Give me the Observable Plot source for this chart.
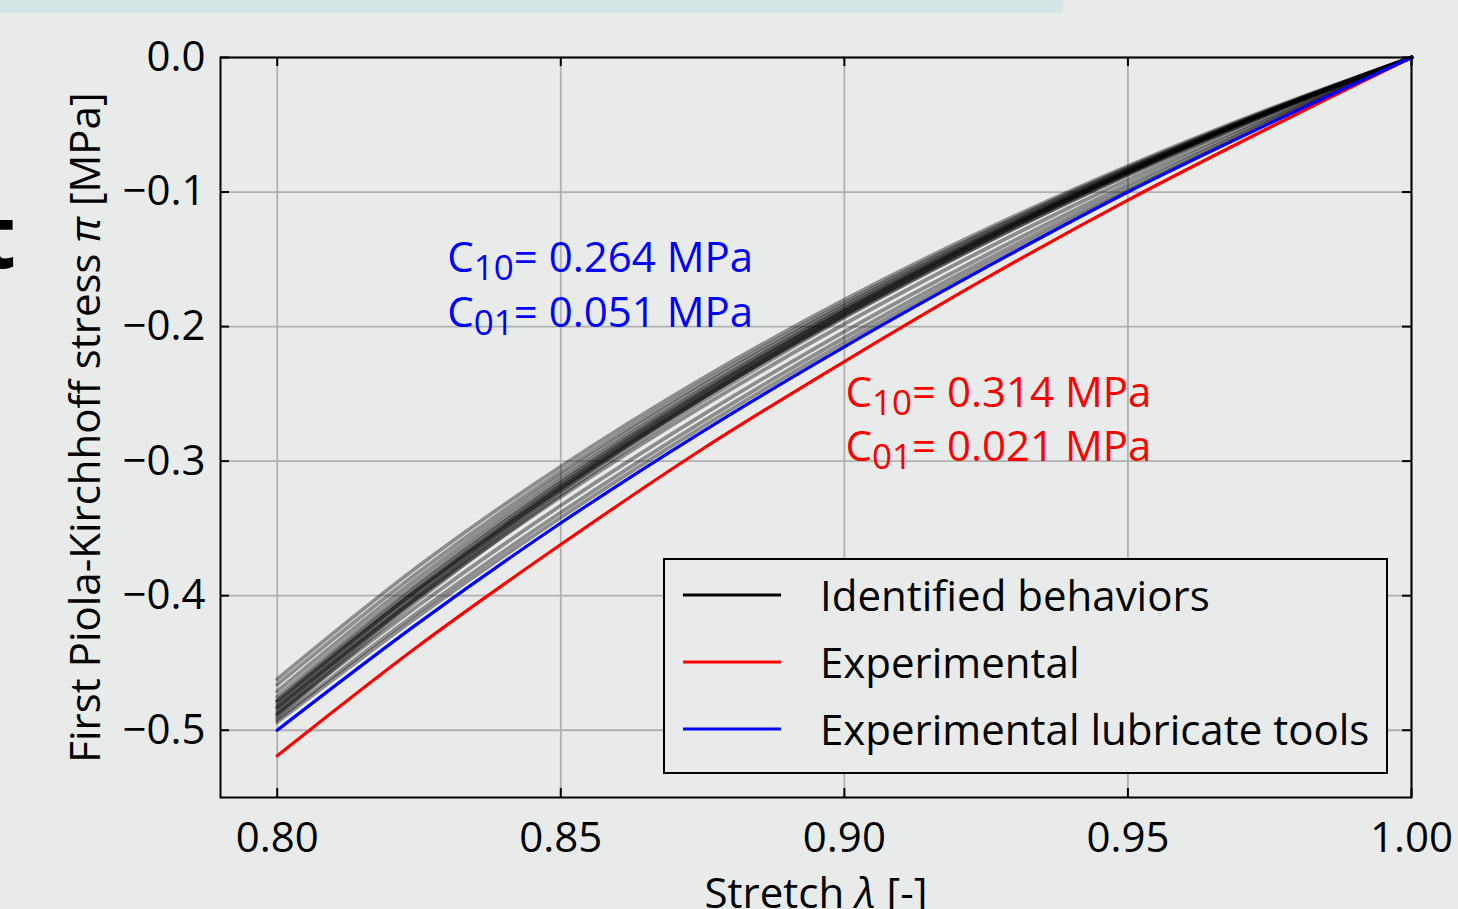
<!DOCTYPE html>
<html>
<head>
<meta charset="utf-8">
<script src="https://cdn.jsdelivr.net/npm/d3@7"></script>
<script src="https://cdn.jsdelivr.net/npm/@observablehq/plot@0.6"></script>
<style>
  html, body { margin: 0; padding: 0; background: #e9ebea; }
  #wrap { position: relative; width: 1458px; height: 909px; overflow: hidden; background: #e9ebea; }
  #strip { position: absolute; left: 0; top: 0; width: 1063px; height: 13px; background: #d4e5e5; }
  #chart { position: absolute; left: 0; top: 0; }
</style>
</head>
<body>
<div id="wrap"><div id="strip"></div><div id="chart"></div></div>
<script>
// ---- data ----
const lambda = [0.80, 0.825, 0.85, 0.875, 0.90, 0.925, 0.95, 0.975, 1.00];
const experimental = [-0.519, -0.437, -0.362, -0.291, -0.226, -0.164, -0.106, -0.052, 0];
const lubricated   = [-0.500, -0.420, -0.346, -0.278, -0.215, -0.156, -0.100, -0.049, 0];
const identified = [
  [-0.4621, -0.3778, -0.3041, -0.2385, -0.1800, -0.1276, -0.0806, -0.0382, 0],
  [-0.4661, -0.3822, -0.3078, -0.2415, -0.1824, -0.1294, -0.0818, -0.0388, 0],
  [-0.4710, -0.3861, -0.3108, -0.2439, -0.1841, -0.1306, -0.0825, -0.0391, 0],
  [-0.4750, -0.3896, -0.3138, -0.2463, -0.1860, -0.1320, -0.0834, -0.0396, 0],
  [-0.4781, -0.3919, -0.3156, -0.2476, -0.1869, -0.1326, -0.0837, -0.0398, 0],
  [-0.4800, -0.3939, -0.3174, -0.2492, -0.1883, -0.1337, -0.0845, -0.0402, 0],
  [-0.4821, -0.3953, -0.3183, -0.2498, -0.1886, -0.1338, -0.0845, -0.0401, 0],
  [-0.4840, -0.3970, -0.3198, -0.2511, -0.1897, -0.1346, -0.0851, -0.0404, 0],
  [-0.4861, -0.3990, -0.3217, -0.2528, -0.1911, -0.1357, -0.0858, -0.0408, 0],
  [-0.4880, -0.4002, -0.3223, -0.2530, -0.1911, -0.1356, -0.0857, -0.0407, 0],
  [-0.4901, -0.4027, -0.3250, -0.2556, -0.1934, -0.1375, -0.0870, -0.0414, 0],
  [-0.4781, -0.3948, -0.3202, -0.2531, -0.1924, -0.1374, -0.0874, -0.0418, 0],
  [-0.4830, -0.4008, -0.3266, -0.2593, -0.1981, -0.1421, -0.0908, -0.0436, 0],
  [-0.4880, -0.4069, -0.3330, -0.2656, -0.2037, -0.1468, -0.0942, -0.0454, 0],
  [-0.4920, -0.4117, -0.3382, -0.2706, -0.2083, -0.1505, -0.0969, -0.0468, 0],
  [-0.4939, -0.4148, -0.3419, -0.2745, -0.2120, -0.1537, -0.0992, -0.0481, 0]
];
const xTicks = [0.80, 0.85, 0.90, 0.95, 1.00];
const yTicks = [0, -0.1, -0.2, -0.3, -0.4, -0.5];
const xLabel = "Stretch λ [-]";
const yLabel = "First Piola-Kirchhoff stress π [MPa]";
const annotationLabels = ["C10= 0.264 MPa", "C01= 0.051 MPa", "C10= 0.314 MPa", "C01= 0.021 MPa"];
const annotationLambda = [0.830, 0.830, 0.9002, 0.9002];
const annotationStress = [-0.1375, -0.1784, -0.2378, -0.2780];
const annotationSeries = ["lubricated", "lubricated", "experimental", "experimental"];
const legendNames = ["Identified behaviors", "Experimental", "Experimental lubricate tools"];
const legendColors = ["black", "red", "blue"];

// ---- tables ----
const idTable = identified.flatMap((s, i) => s.map((v, j) => ({run: i, lambda: lambda[j], stress: v})));
const expTable = lambda.map((l, j) => ({lambda: l, stress: experimental[j]}));
const lubTable = lambda.map((l, j) => ({lambda: l, stress: lubricated[j]}));
const annTable = annotationLabels.map((t, i) => ({label: t, lambda: annotationLambda[i], stress: annotationStress[i], series: annotationSeries[i]}));

const FS = 42;
const gridStyle = {stroke: "#b0b0b0", strokeOpacity: 1, strokeWidth: 1.8};

const svg = Plot.plot({
  width: 1458,
  height: 909,
  marginLeft: 220,
  marginRight: 47,
  marginTop: 57,
  marginBottom: 112,
  x: {domain: [0.79, 1.0]},
  y: {domain: [-0.55, 0]},
  style: {background: "transparent", fontFamily: "'Open Sans', sans-serif", fontSize: FS + "px", color: "black"},
  marks: [
    Plot.gridX({ticks: xTicks, ...gridStyle}),
    Plot.gridY({ticks: yTicks, ...gridStyle}),
    Plot.line(idTable, {x: "lambda", y: "stress", z: "run", stroke: "black", strokeOpacity: 0.4, strokeWidth: 3.8, curve: "catmull-rom"}),
    Plot.line(expTable, {x: "lambda", y: "stress", stroke: "red", strokeWidth: 3.2, curve: "catmull-rom"}),
    Plot.line(lubTable, {x: "lambda", y: "stress", stroke: "blue", strokeWidth: 3.2, curve: "catmull-rom"}),
    // inward ticks on four sides
    Plot.ruleX(xTicks, {x: d => d, insetTop: 731, stroke: "black", strokeWidth: 2}),
    Plot.ruleX(xTicks, {x: d => d, insetBottom: 731, stroke: "black", strokeWidth: 2}),
    Plot.ruleY(yTicks, {y: d => d, insetRight: 1182, stroke: "black", strokeWidth: 2}),
    Plot.ruleY(yTicks, {y: d => d, insetLeft: 1182, stroke: "black", strokeWidth: 2}),
    Plot.frame({stroke: "black", strokeWidth: 2}),
    Plot.axisX({ticks: xTicks, tickSize: 0, tickPadding: 25, tickFormat: d3.format(".2f"), label: null, fontSize: FS}),
    Plot.axisY({ticks: yTicks, tickSize: 0, tickPadding: 15, tickFormat: d3.format(".1f"), label: null, fontSize: FS}),
    Plot.text([xLabel], {text: d => d, frameAnchor: "bottom", dy: 81, lineAnchor: "top", textAnchor: "middle", fontSize: FS, fill: "black"}),
    Plot.text([yLabel], {text: d => d, frameAnchor: "left", dx: -134, rotate: -90, lineAnchor: "middle", textAnchor: "middle", fontSize: FS, fill: "black"}),
    Plot.text(annTable.filter(d => d.series === "lubricated"), {x: "lambda", y: "stress", text: "label", textAnchor: "start", lineAnchor: "top", fill: "blue", fontSize: FS}),
    Plot.text(annTable.filter(d => d.series === "experimental"), {x: "lambda", y: "stress", text: "label", textAnchor: "start", lineAnchor: "top", fill: "red", fontSize: FS})
  ]
});
document.getElementById("chart").appendChild(svg);

// ---- rich text post-processing (italic symbols, subscripts) ----
const root = d3.select(svg);
function rebuild(el, parts) {
  const t = d3.select(el);
  t.text(null);
  parts.forEach(p => {
    const s = t.append("tspan").text(p.t);
    if (p.italic) s.attr("font-style", "italic");
    if (p.sub) s.attr("font-size", 35).attr("dy", 8);
    if (p.unsub) s.attr("dy", -8);
  });
}
root.selectAll("text").each(function() {
  const c = this.textContent;
  if (c === xLabel) rebuild(this, [{t: "Stretch "}, {t: "λ", italic: true}, {t: " [-]"}]);
  else if (c === yLabel) rebuild(this, [{t: "First Piola-Kirchhoff stress "}, {t: "π", italic: true}, {t: " [MPa]"}]);
  else if (/^C(10|01)=/.test(c)) rebuild(this, [{t: "C"}, {t: c.slice(1, 3), sub: true}, {t: c.slice(3), unsub: true}]);
});

// ---- legend ----
const lg = root.append("g").attr("font-family", "'Open Sans', sans-serif").attr("font-size", FS).attr("text-anchor", "start");
lg.append("rect").attr("x", 664).attr("y", 559).attr("width", 723).attr("height", 214)
  .attr("fill", "#e9ebea").attr("stroke", "black").attr("stroke-width", 2);
legendNames.forEach((name, i) => {
  const cy = 595 + i * 67;
  lg.append("line").attr("x1", 683).attr("x2", 781).attr("y1", cy).attr("y2", cy)
    .attr("stroke", legendColors[i]).attr("stroke-width", 3);
  lg.append("text").attr("x", 820).attr("y", cy + 16).attr("fill", "black").attr("text-anchor", "start").text(name);
});

// ---- cropped glyph at the left edge ----
root.append("text").attr("x", 16).attr("y", 268).attr("text-anchor", "end")
  .attr("font-family", "'Open Sans', sans-serif").attr("font-weight", "bold").attr("font-size", 88)
  .attr("fill", "black").text("t");
</script>
</body>
</html>
